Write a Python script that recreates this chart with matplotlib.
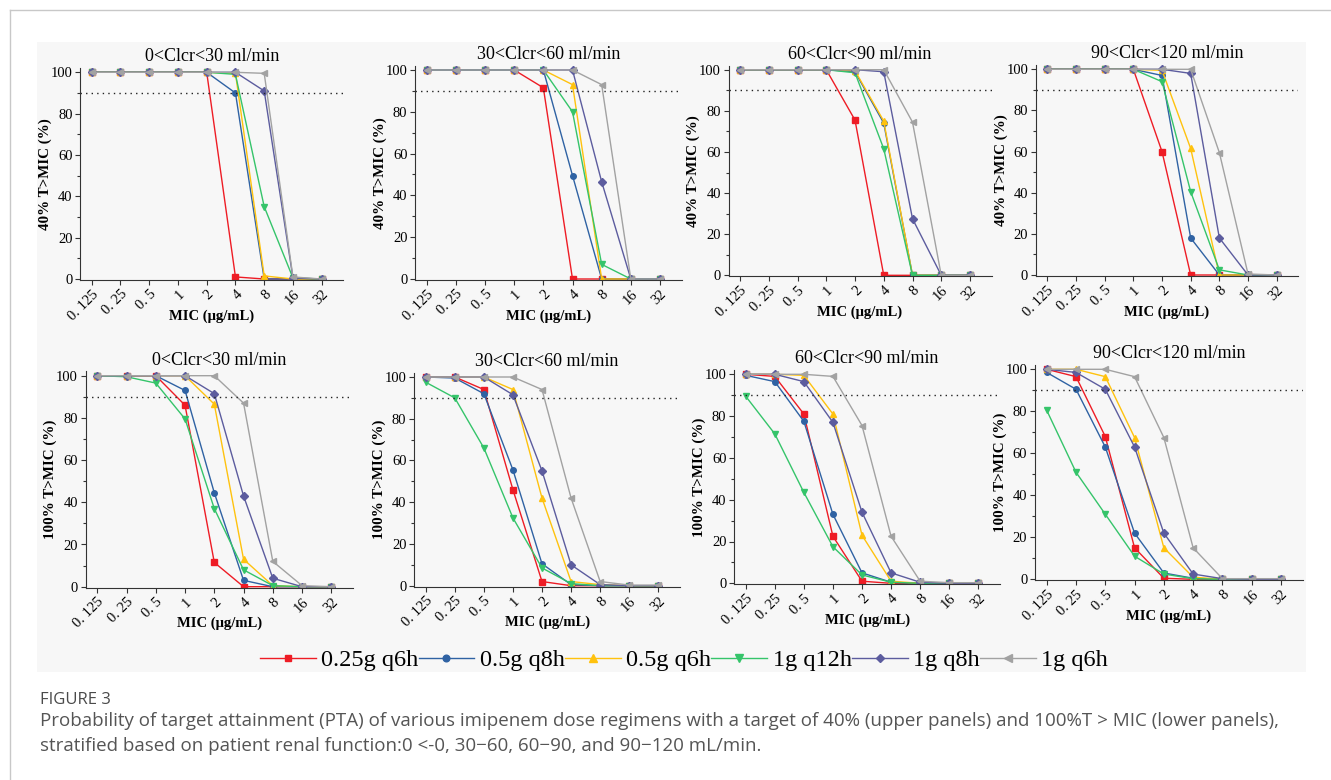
import matplotlib
matplotlib.use('Agg')
import matplotlib.pyplot as plt
from matplotlib.lines import Line2D
from matplotlib.patches import Rectangle
from matplotlib.ticker import MultipleLocator

W, H = 1331, 780

mic_labels = ['0. 125', '0. 25', '0. 5', '1', '2', '4', '8', '16', '32']
regimens = ['0.25g q6h', '0.5g q8h', '0.5g q6h', '1g q12h', '1g q8h', '1g q6h']
clcr_titles = ['0<Clcr<30 ml/min', '30<Clcr<60 ml/min',
               '60<Clcr<90 ml/min', '90<Clcr<120 ml/min']
target_labels = ['40% T>MIC (%)', '100% T>MIC (%)']

# PTA (%) per regimen, same order as regimens, one value per MIC
pta40_clcr0_30 = [
    [100, 100, 100, 100, 100, 1, 0, 0, 0],
    [100, 100, 100, 100, 100, 90, 0, 0, 0],
    [100, 100, 100, 100, 100, 99.5, 1.5, 0, 0],
    [100, 100, 100, 100, 100, 99, 35, 0.5, 0],
    [100, 100, 100, 100, 100, 100, 91, 0.5, 0],
    [100, 100, 100, 100, 100, 100, 99.5, 1, 0],
]
pta40_clcr30_60 = [
    [100, 100, 100, 100, 91.5, 0, 0, 0, 0],
    [100, 100, 100, 100, 100, 49.5, 0, 0, 0],
    [100, 100, 100, 100, 100, 93, 0, 0, 0],
    [100, 100, 100, 100, 100, 80, 7, 0, 0],
    [100, 100, 100, 100, 100, 100, 46.5, 0, 0],
    [100, 100, 100, 100, 100, 100, 93, 0, 0],
]
pta40_clcr60_90 = [
    [100, 100, 100, 100, 75.5, 0, 0, 0, 0],
    [100, 100, 100, 100, 99, 74, 0, 0, 0],
    [100, 100, 100, 100, 99.5, 75, 0, 0, 0],
    [100, 100, 100, 100, 98.5, 61.5, 0, 0, 0],
    [100, 100, 100, 100, 100, 99, 27.5, 0, 0],
    [100, 100, 100, 100, 100, 100, 74.5, 0, 0],
]
pta40_clcr90_120 = [
    [100, 100, 100, 100, 60, 0, 0, 0, 0],
    [100, 100, 100, 100, 97, 18, 0, 0, 0],
    [100, 100, 100, 100, 99.5, 61.5, 0, 0, 0],
    [100, 100, 100, 100, 94, 40.5, 2.5, 0, 0],
    [100, 100, 100, 100, 100, 98, 18, 0, 0],
    [100, 100, 100, 100, 100, 100, 59.5, 0.5, 0],
]
pta100_clcr0_30 = [
    [100, 100, 100, 86, 11.5, 0, 0, 0, 0],
    [100, 100, 100, 93, 44.5, 3, 0, 0, 0],
    [100, 100, 100, 100, 86.5, 13, 0.5, 0, 0],
    [100, 99.5, 96.5, 79.5, 37, 8, 0.5, 0, 0],
    [100, 100, 100, 100, 91.5, 43, 4, 0, 0],
    [100, 100, 100, 100, 100, 87, 12, 0.5, 0],
]
pta100_clcr30_60 = [
    [100, 100, 94, 46, 2, 0, 0, 0, 0],
    [100, 99.5, 92, 55.5, 10.5, 0.5, 0, 0, 0],
    [100, 100, 100, 94, 42, 2, 0.5, 0, 0],
    [97.5, 90, 66, 32.5, 8.5, 1, 0, 0, 0],
    [100, 100, 100, 91.5, 55, 10, 0.5, 0, 0],
    [100, 100, 100, 100, 94, 42, 2, 0.3, 0.3],
]
pta100_clcr60_90 = [
    [100, 99, 81, 22.5, 1, 0, 0, 0, 0],
    [99.5, 96.5, 77.5, 33, 5, 0.5, 0, 0, 0],
    [100, 100, 99.5, 81, 23, 1, 0, 0, 0],
    [89.5, 71.5, 43.5, 17.5, 4, 0.5, 0, 0, 0],
    [100, 100, 96.5, 77, 34, 5, 0.5, 0, 0],
    [100, 100, 100, 99, 75.5, 22.5, 1, 0.3, 0.3],
]
pta100_clcr90_120 = [
    [100, 96.5, 68, 15, 0.5, 0, 0, 0, 0],
    [98.5, 90.5, 63, 22, 3, 0.5, 0, 0, 0],
    [100, 100, 96.5, 67.5, 15, 1, 0, 0, 0],
    [80.5, 51, 31, 11, 2.5, 0.3, 0, 0, 0],
    [100, 98.5, 90.5, 63, 22, 2.5, 0.3, 0, 0],
    [100, 100, 100, 96.5, 67.5, 15, 0.3, 0.3, 0.3],
]
upper_panels = [pta40_clcr0_30, pta40_clcr30_60, pta40_clcr60_90, pta40_clcr90_120]
lower_panels = [pta100_clcr0_30, pta100_clcr30_60, pta100_clcr60_90, pta100_clcr90_120]
target_line = 90

colors = ['#ee1c25', '#2f62a3', '#ffc20e', '#35c46a', '#5c5c9e', '#a2a2a2']
markers = ['s', 'o', '^', 'v', 'D', '<']
marker_sizes = [4, 4, 4.5, 4.5, 3.8, 4.5]

# pixel spots of tick 0.125, tick 32, y=0 and y=100 for each panel
panel_px = [
    [(91.7, 321.7, 279, 72.3), (426.7, 660, 279, 70),
     (740, 970, 275.3, 69.7), (1047.3, 1276.7, 275, 69.3)],
    [(97.3, 331.3, 586.7, 375.7), (425.7, 658.3, 585.7, 377),
     (745.7, 978.3, 583.3, 374.3), (1046.7, 1281, 579.3, 369.3)],
]

plt.rcParams['font.family'] = ['Liberation Serif', 'DejaVu Serif']
plt.rcParams['axes.linewidth'] = 0.8


def place_axes(fig, x0, x8, y0, y100):
    ppx = (x8 - x0) / 8
    ppy = (y0 - y100) / 100
    left = x0 - 0.4 * ppx
    right = x8 + 0.75 * ppx
    top = y100 - 2 * ppy
    bottom = y0 + 0.5 * ppy
    ax = fig.add_axes([left / W, 1 - bottom / H, (right - left) / W, (bottom - top) / H])
    return ax, bottom - top


def draw_panel(ax, height_px, series, title, ylabel):
    x = list(range(len(mic_labels)))
    for i, values in enumerate(series):
        ax.plot(x, values, color=colors[i], marker=markers[i], markersize=marker_sizes[i],
                linewidth=1.0, label=regimens[i])
    ax.axhline(target_line, color='#222222', linestyle=(0, (1, 3)), linewidth=1.0)

    ax.set_xlim(-0.4, 8.75)
    ax.set_ylim(-0.5, 102)
    ax.set_facecolor('none')
    ax.spines['top'].set_visible(False)
    ax.spines['right'].set_visible(False)
    for side in ['left', 'bottom']:
        ax.spines[side].set_color('#333333')

    ax.set_xticks(x)
    ax.set_xticklabels(mic_labels, rotation=45, ha='right', rotation_mode='anchor')
    ax.set_yticks([0, 20, 40, 60, 80, 100])
    ax.yaxis.set_minor_locator(MultipleLocator(10))
    ax.tick_params(axis='both', labelsize=10.5, color='#333333', length=3.5, width=0.8, pad=2)
    ax.tick_params(axis='y', which='minor', length=2, width=0.8, color='#333333')

    ax.set_title(title, fontsize=13, pad=5)
    ax.set_xlabel('MIC (μg/mL)', fontsize=10.5, fontweight='bold', va='center')
    ax.xaxis.set_label_coords(0.5, -36 / height_px)
    ax.set_ylabel(ylabel, fontsize=10.8, fontweight='bold', labelpad=-1)


def main():
    fig = plt.figure(figsize=(W / 100, H / 100), dpi=100)
    fig.patch.set_facecolor('white')

    # page frame and grey figure area
    fig.add_artist(Line2D([10 / W, 1], [1 - 9.5 / H] * 2, color='#c8c8c8', linewidth=1.0))
    fig.add_artist(Line2D([10 / W] * 2, [0, 1 - 9.5 / H], color='#c8c8c8', linewidth=1.0))
    fig.patches.append(Rectangle((37 / W, 1 - 672 / H), (1306 - 37) / W, (672 - 42) / H,
                                 transform=fig.transFigure, facecolor='#f7f7f7',
                                 edgecolor='none', zorder=-1))

    axes = []
    for row, panels in enumerate([upper_panels, lower_panels]):
        for col, series in enumerate(panels):
            ax, height_px = place_axes(fig, *panel_px[row][col])
            draw_panel(ax, height_px, series, clcr_titles[col], target_labels[row])
            axes.append(ax)

    handles, labels = axes[0].get_legend_handles_labels()
    fig.legend(handles, labels, loc='center', bbox_to_anchor=(684 / W, 1 - 660 / H),
               ncol=6, frameon=False, fontsize=17.5, handlelength=2.3,
               handletextpad=0.23, columnspacing=0.0, borderpad=0.2, markerscale=1.2)

    fig.text(40 / W, 1 - 700 / H, 'FIGURE 3', fontsize=12, color='#4a4a4a',
             family=['Open Sans', 'DejaVu Sans'], va='center')
    fig.text(40 / W, 1 - 721 / H,
             'Probability of target attainment (PTA) of various imipenem dose regimens with a target '
             'of 40% (upper panels) and 100%T > MIC (lower panels),',
             fontsize=13.5, color='#555555', family=['Open Sans', 'DejaVu Sans'], va='center')
    fig.text(40 / W, 1 - 746 / H,
             'stratified based on patient renal function:0 <-0, 30\u221260, 60\u221290, and '
             '90\u2212120 mL/min.',
             fontsize=13.5, color='#555555', family=['Open Sans', 'DejaVu Sans'], va='center')

    fig.savefig('out.png', dpi=100)
    plt.close(fig)


if __name__ == '__main__':
    main()
